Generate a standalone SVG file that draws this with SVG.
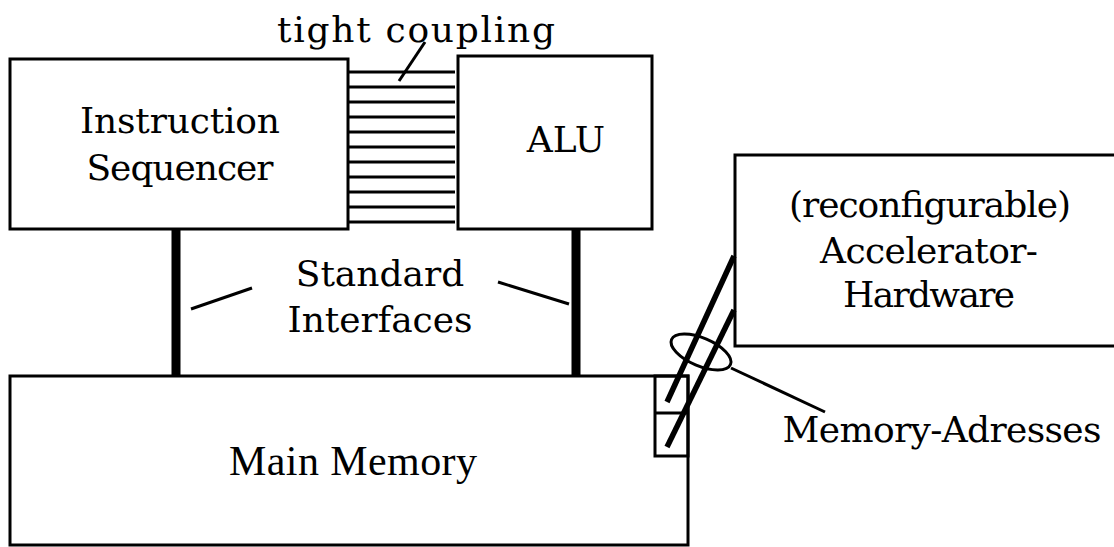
<svg xmlns="http://www.w3.org/2000/svg" width="1114" height="547" viewBox="0 0 1114 547">
<style>
.box{fill:#fff;stroke:#000;stroke-width:3}
.t{font-family:"DejaVu Serif","Liberation Serif",serif;font-size:36px;fill:#000;text-anchor:middle}
.tm{font-family:"Liberation Serif",serif;font-size:42px;fill:#000;text-anchor:middle}
.thin{stroke:#000;stroke-width:3;fill:none}
.bus{stroke:#000;stroke-width:9}
.wire{stroke:#000;stroke-width:5.5}
</style>
<rect width="1114" height="547" fill="#fff"/>
<g id="main-memory">
<rect class="box" x="10" y="376" width="678" height="169"/>
<rect class="thin" x="655" y="376" width="33" height="80"/>
<line class="thin" x1="655" y1="413" x2="688" y2="413"/>
<text class="tm" x="353" y="475" textLength="248">Main Memory</text>
</g>
<g id="instruction-sequencer">
<rect class="box" x="10" y="59" width="338" height="170"/>
<text class="t" x="180" y="133" textLength="200">Instruction</text>
<text class="t" x="180" y="180" textLength="187">Sequencer</text>
</g>
<g id="alu">
<rect class="box" x="458" y="56" width="194" height="173"/>
<text class="t" x="566" y="152">ALU</text>
</g>
<g id="accelerator">
<rect class="box" x="735" y="155" width="390" height="191"/>
<text class="t" x="930" y="217" textLength="282">(reconfigurable)</text>
<text class="t" x="929" y="263" textLength="218">Accelerator-</text>
<text class="t" x="929" y="307" textLength="172">Hardware</text>
</g>
<g id="connectors">
<g class="thin">
<line x1="348" y1="72" x2="455" y2="72"/>
<line x1="348" y1="87" x2="455" y2="87"/>
<line x1="348" y1="102" x2="455" y2="102"/>
<line x1="348" y1="117" x2="455" y2="117"/>
<line x1="348" y1="132" x2="455" y2="132"/>
<line x1="348" y1="147" x2="455" y2="147"/>
<line x1="348" y1="162" x2="455" y2="162"/>
<line x1="348" y1="177" x2="455" y2="177"/>
<line x1="348" y1="192" x2="455" y2="192"/>
<line x1="348" y1="207" x2="455" y2="207"/>
<line x1="348" y1="222" x2="455" y2="222"/>
<line x1="425" y1="42" x2="399" y2="81"/>
<line x1="191" y1="309" x2="252" y2="288"/>
<line x1="498" y1="282" x2="569" y2="304"/>
<ellipse cx="701" cy="352" rx="32" ry="14" transform="rotate(23 701 352)"/>
<line x1="731" y1="368" x2="825" y2="412"/>
</g>
<line class="bus" x1="176" y1="229" x2="176" y2="376"/>
<line class="bus" x1="576" y1="229" x2="576" y2="376"/>
<line class="wire" x1="734" y1="256" x2="667" y2="402"/>
<line class="wire" x1="734" y1="310" x2="667" y2="447"/>
</g>
<g id="labels">
<text class="t" x="416" y="42" textLength="278">tight coupling</text>
<text class="t" x="380" y="286">Standard</text>
<text class="t" x="380" y="332">Interfaces</text>
<text class="t" x="942" y="442" textLength="319">Memory-Adresses</text>
</g>
</svg>
